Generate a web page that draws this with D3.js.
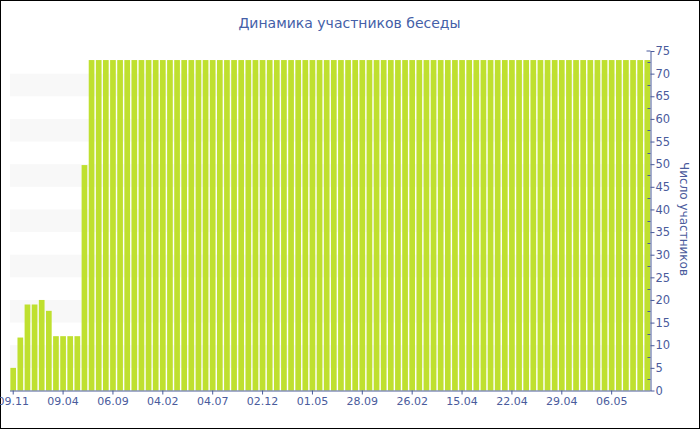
<!DOCTYPE html>
<html><head><meta charset="utf-8">
<script src="https://cdn.jsdelivr.net/npm/d3@7/dist/d3.min.js"></script>
<style>body{margin:0;background:#fff}svg{display:block}</style>
</head><body>
<script>
const title = "Динамика участников беседы";
const yTitle = "Число участников";
const values = [5,11.7,19,19,20,17.6,12,12,12,12,49.8,
73,73,73,73,73,73,73,73,73,73,73,73,73,73,73,73,73,73,73,73,
73,73,73,73,73,73,73,73,73,73,73,73,73,73,73,73,73,73,73,73,
73,73,73,73,73,73,73,73,73,73,73,73,73,73,73,73,73,73,73,73,
73,73,73,73,73,73,73,73,73,73,73,73,73,73,73,73,73,73,73];
const tickLabels = ["09.11","09.04","06.09","04.02","04.07","02.12","01.05","28.09","26.02","15.04","22.04","29.04","06.05"];
const tickEvery = 7;
const yTicks = [0,5,10,15,20,25,30,35,40,45,50,55,60,65,70,75];

const W=700,H=430;
const mLeft=10,mRight=650.5,mTop=51,mBottom=390.5;
const axisColor="#4a5b9c", textColor="#4a5b9c";
const svg=d3.select("body").append("svg").attr("width",W).attr("height",H);
svg.append("rect").attr("x",0.5).attr("y",0.5).attr("width",W-1).attr("height",H-2)
  .attr("fill","#fff").attr("stroke","#000");

const idx = values.map((v,i)=>i);
const x=d3.scaleBand().domain(idx).range([mLeft,mRight]).paddingInner(0.2).paddingOuter(0.05);
const y=d3.scaleLinear().domain([0,75]).range([mBottom,mTop]);

// alternating bands
const bands=[];
for(let i=0;i<yTicks.length-1;i++){ if(i%2===1) bands.push([yTicks[i],yTicks[i+1]]); }
svg.append("g").selectAll("rect").data(bands).join("rect")
  .attr("x",mLeft).attr("width",mRight-mLeft)
  .attr("y",d=>y(d[1])).attr("height",d=>y(d[0])-y(d[1]))
  .attr("fill","#f8f8f8");

svg.append("g").selectAll("rect").data(values).join("rect")
  .attr("x",(d,i)=>x(i)).attr("width",x.bandwidth())
  .attr("y",d=>y(d)).attr("height",d=>y(0)-y(d))
  .attr("fill","#bfe02f");

// x axis
const xTickIdx = tickLabels.map((t,k)=>k*tickEvery);
const xAxis=d3.axisBottom(x).tickValues(xTickIdx)
  .tickFormat(d=>tickLabels[d/tickEvery]).tickSize(4).tickPadding(3).tickSizeOuter(0);
const gx=svg.append("g").attr("transform",`translate(0,${mBottom})`).call(xAxis);
gx.select(".domain").attr("stroke",axisColor).attr("d",`M${mLeft},0.5H${mRight}`);
gx.selectAll(".tick line").attr("stroke",axisColor);
gx.selectAll("text").attr("fill",textColor).style("font-family","DejaVu Sans, Verdana, sans-serif").style("font-size","11px");

// y axis right
const yAxis=d3.axisRight(y).tickValues(yTicks).tickSize(4).tickPadding(1).tickSizeOuter(0);
const gy=svg.append("g").attr("transform",`translate(${mRight},0)`).call(yAxis);
gy.select(".domain").attr("stroke",axisColor);
gy.selectAll(".tick line").attr("stroke",axisColor);
gy.selectAll("text").attr("fill",textColor).style("font-family","DejaVu Sans, Verdana, sans-serif").style("font-size","11.5px");
// minor ticks
const minor=yTicks.slice(0,-1).map(v=>v+2.5);
svg.append("g").selectAll("line").data(minor).join("line")
  .attr("x1",mRight-3).attr("x2",mRight).attr("y1",d=>Math.round(y(d))+0.5).attr("y2",d=>Math.round(y(d))+0.5)
  .attr("stroke",axisColor);
svg.append("line").attr("x1",mRight-4).attr("x2",mRight).attr("y1",y(75)).attr("y2",y(75)).attr("stroke",axisColor);

svg.append("text").attr("x",349.5).attr("y",28).attr("text-anchor","middle")
  .attr("fill","#4460a8").style("font-family","DejaVu Sans, Verdana, sans-serif").style("font-size","14px").text(title);
svg.append("text").attr("transform",`translate(680,219) rotate(90)`).attr("text-anchor","middle")
  .attr("fill",textColor).style("font-family","DejaVu Sans, Verdana, sans-serif").style("font-size","12px").text(yTitle);
</script>
</body></html>
